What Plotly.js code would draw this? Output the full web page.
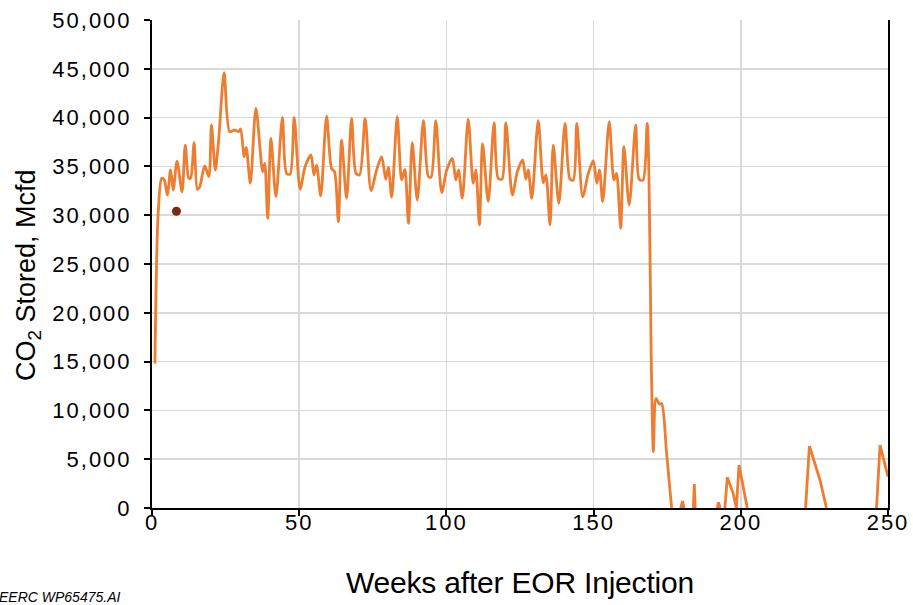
<!DOCTYPE html>
<html>
<head>
<meta charset="utf-8">
<script src="https://cdn.plot.ly/plotly-3.0.1.min.js"></script>
<style>
  html, body { margin: 0; padding: 0; background: #fff; }
  #chart { width: 913px; height: 605px; }
  .ytick text, .xtick text { letter-spacing: 2px; }
  .g-xtitle text { letter-spacing: -0.2px; }
</style>
</head>
<body>
<div id="chart"></div>
<script>
// Main injection period (weeks after EOR injection, CO2 stored in Mcfd)
var weeks = [1, 2.1, 3.3, 4.1, 5.2, 6.3, 7.2, 8.5, 10.2, 11.3, 12.5, 13.1, 14.3, 15.4, 16.2, 17.9, 19.3, 20.2, 21.5, 22.6,
  24.5, 26.4, 28.1, 29.4, 30.1, 31.3, 32, 33.4, 35.3, 37.6, 38.3, 39.3, 40.4, 42.1, 44.3, 45.7, 46.9, 48.3, 50.3, 52,
  54, 55, 55.9, 57.3, 59.3, 61, 62, 63.3, 64.4, 66.1, 67.8, 69.3, 70.5, 72.4, 74.4, 76.3, 78, 79.4, 80.3, 81.4,
  83.3, 84.8, 85.9, 87.1, 88.4, 90.1, 92.2, 93.9, 94.8, 96.4, 98.4, 100.1, 102, 103.2, 104.1, 105.4, 107.4, 109.1, 110, 111.2,
  112.3, 114.2, 116.2, 117.6, 118.9, 120.2, 122.4, 124.1, 125.9, 127, 127.8, 129, 131.2, 132.9, 133.8, 135.2, 136.3, 138.2, 140.3, 142,
  143.1, 144.3, 146.3, 148.2, 149.9, 151.1, 152, 153.1, 155.3, 156.9, 157.8, 159.2, 160.3, 162.1, 164.3, 165.5, 166.8, 168.2, 169.7, 170.3,
  171.2, 172.3, 173.1, 174.8, 176.5];
var co2Stored = [14800, 30200, 33780, 33680, 32070, 34630, 32580, 35550, 32400, 37190, 33780, 33780, 37430, 32650, 32900, 35040, 33950, 39240, 34630, 37530,
  44600, 38560, 38730, 38560, 38830, 36000, 36950, 33270, 40950, 34460, 35320, 29680, 37880, 31900, 40030, 34290, 34200, 40030, 32680, 34970,
  36170, 34120, 35140, 31970, 40160, 34800, 34460, 29340, 37700, 31730, 39930, 34290, 34120, 39930, 32510, 34630, 36000, 33680, 34900, 31830,
  40100, 33610, 34700, 29170, 37430, 31560, 39690, 33950, 33900, 39690, 32310, 34630, 35830, 33610, 34630, 31730, 39830, 33270, 34630, 29000,
  37300, 31390, 39480, 33780, 33700, 39480, 32070, 34460, 35660, 33680, 34630, 31730, 39690, 33330, 34120, 29000, 37190, 31220, 39410, 33680,
  33600, 39410, 31900, 34290, 35590, 33270, 34630, 31390, 39580, 33610, 34290, 28660, 37020, 31050, 39240, 33680, 33600, 39410, 13110, 5770,
  11240, 10660, 10700, 5600, 0];

// Late intermittent injection (null = no storage)
var tailWeeks = [179.6, 180.2, 180.7, null, 183.9, 184.2, 184.5, null, 192, 192.4, 193, null,
  194.6, 195.4, 197.4, 198.5, 199.4, 202.2, null, 222, 223.3, 226.9, 229.1, null, 246.1, 247.3, 250];
var tailCo2 = [0, 720, 0, null, 0, 2460, 0, null, 0, 580, 0, null,
  0, 3140, 1500, 0, 4400, 0, null, 0, 6350, 2870, 0, null, 0, 6450, 3210];

// Single highlighted point
var dotWeek = [8.3];
var dotCo2 = [30400];

var xTicks = [0, 50, 100, 150, 200, 250];
var yTicks = [0, 5000, 10000, 15000, 20000, 25000, 30000, 35000, 40000, 45000, 50000];

var orange = '#ed7d31';
var traces = [
  { x: weeks, y: co2Stored, type: 'scatter', mode: 'lines',
    line: { color: orange, width: 2.8, shape: 'spline', smoothing: 0.8 }, hoverinfo: 'x+y' },
  { x: tailWeeks, y: tailCo2, type: 'scatter', mode: 'lines', connectgaps: false,
    line: { color: orange, width: 2.8 }, hoverinfo: 'x+y' },
  { x: dotWeek, y: dotCo2, type: 'scatter', mode: 'markers',
    marker: { color: '#7a2a10', size: 9 }, hoverinfo: 'x+y' }
];

var fontFam = '"Liberation Sans", Arial, sans-serif';
var plotW = 736, plotH = 488;
var layout = {
  width: 913, height: 605,
  margin: { l: 152, r: 25, t: 20, b: 97 },
  paper_bgcolor: '#ffffff', plot_bgcolor: '#ffffff',
  showlegend: false,
  font: { family: fontFam, color: '#000000', size: 22 },
  xaxis: {
    range: [0, 250], tickvals: xTicks, ticktext: xTicks.map(String),
    showgrid: true, gridcolor: '#d9d9d9', gridwidth: 1.5,
    showline: true, linecolor: '#000000', linewidth: 2,
    ticks: 'outside', ticklen: 6, tickcolor: '#000000', tickwidth: 2,
    ticklabelstandoff: -12,
    tickfont: { size: 22, family: fontFam },
    zeroline: false, fixedrange: true,
    title: { text: 'Weeks after EOR Injection', font: { size: 30, family: fontFam }, standoff: 38 }
  },
  yaxis: {
    range: [0, 50000], tickvals: yTicks, tickformat: ',d',
    showgrid: true, gridcolor: '#d9d9d9', gridwidth: 1.5,
    showline: true, linecolor: '#000000', linewidth: 2, mirror: true,
    ticks: 'outside', ticklen: 6, tickcolor: '#000000', tickwidth: 2,
    ticklabelstandoff: 8,
    tickfont: { size: 22, family: fontFam },
    zeroline: false, fixedrange: true
  },
  annotations: [{
    text: 'CO<sub>2</sub> Stored, Mcfd', xref: 'paper', yref: 'paper',
    x: (28 - 152) / plotW, y: (508 - 275) / plotH, xanchor: 'center', yanchor: 'middle',
    textangle: -90, showarrow: false, font: { size: 27, family: fontFam }
  }, {
    text: 'EERC WP65475.AI', xref: 'paper', yref: 'paper',
    x: -155 / plotW, y: -89 / plotH, xanchor: 'left', yanchor: 'middle',
    showarrow: false, font: { size: 14, family: fontFam, style: 'italic' }
  }]
};

Plotly.newPlot('chart', traces, layout, { displayModeBar: false, staticPlot: true });
</script>
</body>
</html>
